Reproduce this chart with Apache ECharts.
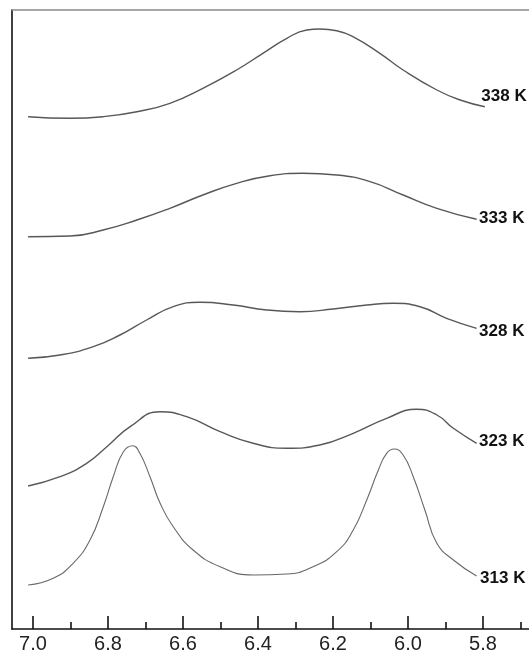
<!DOCTYPE html>
<html>
<head>
<meta charset="utf-8">
<style>html,body{margin:0;padding:0;background:#fff}#c{width:529px;height:654px}</style>
<script src="https://cdn.jsdelivr.net/npm/echarts@6/dist/echarts.min.js"></script>
</head>
<body>
<div id="c"></div>
<script>
// Chemical shift (ppm) and stacked intensity (arbitrary units, offset per temperature)
var ppm338 = [7.013, 6.901, 6.813, 6.723, 6.635, 6.547, 6.457, 6.387, 6.323, 6.270, 6.235, 6.190, 6.147, 6.075, 6.013, 5.923, 5.861, 5.795];
var int338 = [512.3, 510.7, 512.3, 517.3, 525.7, 540.7, 559, 575.7, 590.7, 599, 600, 598.3, 592.3, 575.7, 559, 539, 529, 522.3];

var ppm333 = [7.013, 6.901, 6.813, 6.723, 6.635, 6.547, 6.457, 6.368, 6.280, 6.190, 6.101, 6.013, 5.923, 5.817];
var int333 = [392.3, 393, 399, 409, 420.7, 434, 445.7, 453.3, 455.7, 454, 447.3, 434, 420.7, 409.7];

var ppm328 = [7.013, 6.928, 6.839, 6.768, 6.697, 6.626, 6.555, 6.466, 6.377, 6.288, 6.199, 6.110, 6.039, 5.968, 5.897, 5.817];
var int328 = [270.7, 274, 282.3, 294, 309, 322.3, 326.7, 324, 319, 317.3, 320, 324, 325.7, 322.3, 310.7, 300.7];

var ppm323 = [7.013, 6.928, 6.857, 6.803, 6.741, 6.661, 6.590, 6.501, 6.413, 6.323, 6.235, 6.146, 6.057, 5.977, 5.923, 5.879, 5.817];
var int323 = [143, 152.3, 165.7, 182.3, 202.3, 217.3, 212.3, 197.3, 185.7, 180.7, 184, 195.7, 210.7, 219.7, 214, 200.7, 185.7];

var ppm313 = [7.013, 6.946, 6.893, 6.848, 6.8125, 6.786, 6.759, 6.734, 6.715, 6.688, 6.661, 6.626, 6.573, 6.501, 6.413, 6.323, 6.253, 6.190, 6.146, 6.110, 6.079, 6.057, 6.037, 6.013, 5.986, 5.955, 5.923, 5.879, 5.817];
var int313 = [44, 50.7, 65.7, 89, 122.3, 152.3, 177.3, 183.3, 175.7, 152.3, 125.7, 102.3, 79, 62.3, 54, 55, 62.3, 77.3, 99, 129, 159, 175.7, 180, 174, 152.3, 119, 85.7, 69, 53];

var tempLabels = ['338 K', '333 K', '328 K', '323 K', '313 K'];
var xTickMin = 5.6, xTickMax = 7.2, xTickStep = 0.2;

function pairs(xs, ys) { return xs.map(function (x, i) { return [x, ys[i]]; }); }

var spectra = [
  [ppm338, int338, [-5, -10]],
  [ppm333, int333, [1, -1]],
  [ppm328, int328, [1, 3]],
  [ppm323, int323, [1, -2]],
  [ppm313, int313, [2, 2]]
];

var chart = echarts.init(document.getElementById('c'), null, {renderer: 'canvas'});
var FONT = '"Liberation Sans", Arial, sans-serif';

var series = spectra.map(function (s, i) {
  var last = i === 4;
  var n = s[0].length - 1;
  return {
    name: tempLabels[i],
    type: 'line',
    xAxisIndex: 0, yAxisIndex: 0,
    data: pairs(s[0], s[1]),
    smooth: 0.5,
    symbol: 'none',
    silent: true,
    lineStyle: {color: last ? '#686868' : '#585858', width: last ? 1.1 : 1.4},
    markPoint: {
      silent: true,
      symbol: 'circle',
      symbolSize: 1,
      itemStyle: {color: 'rgba(0,0,0,0)'},
      label: {
        show: true,
        position: 'right',
        distance: 1,
        offset: s[2],
        formatter: tempLabels[i],
        fontFamily: FONT,
        fontWeight: 'bold',
        fontSize: 17,
        color: '#111'
      },
      data: [{coord: [s[0][n], s[1][n]]}]
    }
  };
});

chart.setOption({
  animation: false,
  backgroundColor: '#fff',
  grid: [
    {left: 12, right: 0, top: 10, bottom: 25, outerBoundsMode: 'none', containLabel: false},
    {left: -42, width: 600, top: 10, bottom: 25, outerBoundsMode: 'none', containLabel: false}
  ],
  xAxis: [
    {
      type: 'value', gridIndex: 0, inverse: true, min: 5.6773, max: 7.056,
      axisLine: {show: true, lineStyle: {color: '#111', width: 1.6}},
      axisTick: {show: false}, axisLabel: {show: false}, splitLine: {show: false}
    },
    {
      type: 'value', gridIndex: 0, position: 'top', inverse: true, min: 5.6773, max: 7.056,
      axisLine: {show: true, lineStyle: {color: '#8a8a8a', width: 1.6}},
      axisTick: {show: false}, axisLabel: {show: false}, splitLine: {show: false}
    },
    {
      type: 'value', gridIndex: 1, inverse: true, min: xTickMin, max: xTickMax, interval: xTickStep,
      axisLine: {show: false},
      axisTick: {show: true, inside: true, length: 13, lineStyle: {color: '#111', width: 1.6}},
      minorTick: {show: true, splitNumber: 2, length: 7, lineStyle: {color: '#111', width: 1.6}},
      axisLabel: {
        show: true, margin: 5, fontFamily: FONT, fontSize: 20, color: '#222',
        formatter: function (v) { return v.toFixed(1); }
      },
      splitLine: {show: false}, minorSplitLine: {show: false}
    }
  ],
  yAxis: [
    {
      type: 'value', gridIndex: 0, min: 0, max: 619,
      axisLine: {show: true, lineStyle: {color: '#111', width: 1.6}},
      axisTick: {show: false}, axisLabel: {show: false}, splitLine: {show: false}
    },
    {
      type: 'value', gridIndex: 1, min: 0, max: 619, show: false
    }
  ],
  series: series
});
</script>
</body>
</html>
